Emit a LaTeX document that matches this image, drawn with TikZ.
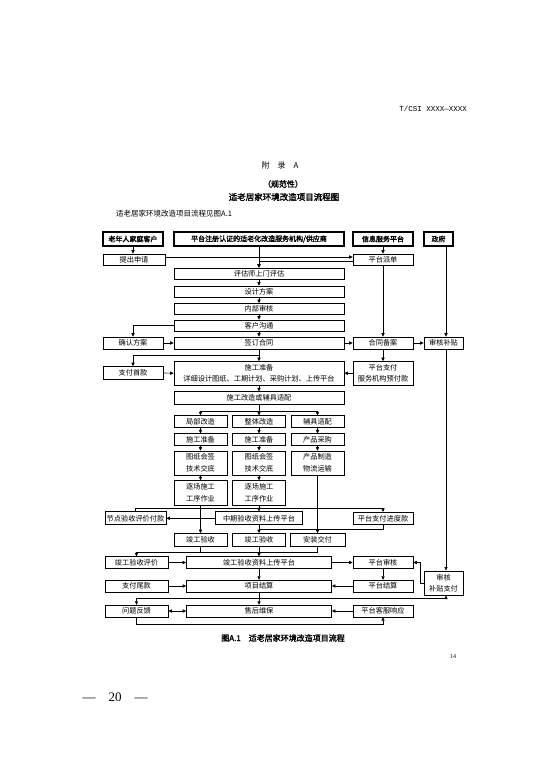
\documentclass[tikz,border=0pt]{standalone}
\usepackage{fontspec}
\usetikzlibrary{arrows.meta,calc}
\newfontfamily\cjk{Noto Sans CJK SC}
\newfontfamily\cjkb[FakeBold=2]{Noto Sans CJK SC}
\newfontfamily\monof{Liberation Mono}
\newfontfamily\serifnum{Liberation Serif}
\tikzset{
  box/.style={draw, line width=0.7pt, inner sep=0pt, align=center,
    font=\cjk\fontsize{7.2}{11.5}\selectfont},
  hdr/.style={draw, line width=1.8pt, inner sep=0pt, align=center,
    font=\cjkb\fontsize{7}{9}\selectfont, minimum height=14pt},
  ln/.style={line width=0.6pt},
  arr/.style={line width=0.6pt, -{Triangle[length=3.5pt,width=3.2pt]}},
  darr/.style={line width=0.6pt, {Triangle[length=3.5pt,width=3.2pt]}-{Triangle[length=3.5pt,width=3.2pt]}},
  txt/.style={inner sep=0pt}
}
\begin{document}
\begin{tikzpicture}[x=1pt,y=-1pt]
\path[use as bounding box, fill=white] (0,0) rectangle (550,778);

% page texts
\node[txt, anchor=east, font=\monof\fontsize{7.5}{9}\selectfont] (code) at (467,109) {T/CSI XXXX—XXXX};
\node[txt, font=\cjk\fontsize{8}{10}\selectfont] (app) at (280,165) {附\quad 录\quad A};
\node[txt, font=\cjkb\fontsize{8}{10}\selectfont] (norm) at (283,184) {（规范性）};
\node[txt, font=\cjkb\fontsize{8.5}{10}\selectfont] (title) at (284,197) {适老居家环境改造项目流程图};
\node[txt, anchor=west, font=\cjk\fontsize{7.5}{9}\selectfont] (intro) at (116,214) {适老居家环境改造项目流程见图A.1};
\node[txt, font=\cjkb\fontsize{8}{10}\selectfont] (cap) at (283,638) {图A.1\quad 适老居家环境改造项目流程};
\node[txt, font=\serifnum\fontsize{6}{7}\selectfont] (pg) at (453,657) {14};
\node[txt, font=\serifnum\fontsize{13}{15}\selectfont] (pgnum) at (115,697) {—\quad 20\quad —};

% headers
\node[hdr, minimum width=60pt] (hA) at (133,239) {老年人家庭客户};
\node[hdr, minimum width=170pt] (hB) at (259,239) {平台注册认证的适老化改造服务机构/供应商};
\node[hdr, minimum width=60pt] (hC) at (383,239) {信息服务平台};
\node[hdr, minimum width=29pt] (hD) at (438.5,239) {政府};

% boxes
\node[box, minimum width=62pt, minimum height=11pt] (req) at (134,259.5) {提出申请};
\node[box, minimum width=60pt, minimum height=11pt] (disp) at (383,259.5) {平台派单};
\node[box, minimum width=170pt, minimum height=11pt] (eval) at (259,273.5) {评估师上门评估};
\node[box, minimum width=170pt, minimum height=11pt] (design) at (259,291.5) {设计方案};
\node[box, minimum width=170pt, minimum height=11pt] (audit) at (259,309) {内部审核};
\node[box, minimum width=170pt, minimum height=11pt] (comm) at (259,325.5) {客户沟通};
\node[box, minimum width=60pt, minimum height=12pt] (confirm) at (133,343) {确认方案};
\node[box, minimum width=170pt, minimum height=12pt] (contract) at (259,343) {签订合同};
\node[box, minimum width=60pt, minimum height=12pt] (filing) at (383,343) {合同备案};
\node[box, minimum width=39pt, minimum height=12pt] (sub) at (443.5,343) {审核补贴};
\node[box, minimum width=60pt, minimum height=13pt] (firstpay) at (133,373) {支付首款};
\node[box, minimum width=170pt, minimum height=23.5pt] (prep) at (259,373.25) {施工准备\\详细设计图纸、工期计划、采购计划、上传平台};
\node[box, minimum width=60pt, minimum height=23.5pt] (ppay) at (383,373.25) {平台支付\\服务机构预付款};
\node[box, minimum width=170pt, minimum height=12.5pt] (work) at (259,398) {施工改造或辅具适配};

\node[box, minimum width=53pt, minimum height=12pt] (a1) at (200.5,421.7) {局部改造};
\node[box, minimum width=53pt, minimum height=12pt] (a2) at (259,421.7) {整体改造};
\node[box, minimum width=53pt, minimum height=12pt] (a3) at (317.5,421.7) {辅具适配};
\node[box, minimum width=53pt, minimum height=12pt] (b1) at (200.5,439.7) {施工准备};
\node[box, minimum width=53pt, minimum height=12pt] (b2) at (259,439.7) {施工准备};
\node[box, minimum width=53pt, minimum height=12pt] (b3) at (317.5,439.7) {产品采购};
\node[box, minimum width=53pt, minimum height=24pt] (c1) at (200.5,463) {图纸会签\\技术交底};
\node[box, minimum width=53pt, minimum height=24pt] (c2) at (259,463) {图纸会签\\技术交底};
\node[box, minimum width=53pt, minimum height=24pt] (c3) at (317.5,463) {产品制造\\物流运输};
\node[box, minimum width=53pt, minimum height=24.3pt] (d1) at (200.5,492.8) {逐场施工\\工序作业};
\node[box, minimum width=53pt, minimum height=24.3pt] (d2) at (259,492.8) {逐场施工\\工序作业};

\node[box, minimum width=61pt, minimum height=13pt] (nodepay) at (135.5,518.3) {节点验收评价付款};
\node[box, minimum width=87pt, minimum height=13pt] (mid) at (259,518.3) {中期验收资料上传平台};
\node[box, minimum width=60pt, minimum height=12.5pt] (ppr) at (383,518.5) {平台支付进度款};

\node[box, minimum width=53pt, minimum height=13pt] (e1) at (200.5,540) {竣工验收};
\node[box, minimum width=53pt, minimum height=13pt] (e2) at (259,540) {竣工验收};
\node[box, minimum width=55pt, minimum height=13pt] (e3) at (317.5,540) {安装交付};

\node[box, minimum width=63pt, minimum height=11.6pt] (finEval) at (136.5,562.5) {竣工验收评价};
\node[box, minimum width=145pt, minimum height=11.6pt] (upload) at (259,562.5) {竣工验收资料上传平台};
\node[box, minimum width=60pt, minimum height=11.6pt] (paudit) at (383,562.5) {平台审核};
\node[box, minimum width=39pt, minimum height=24.3pt] (subpay) at (443.5,583) {审核\\补贴支付};
\node[box, minimum width=63pt, minimum height=11.7pt] (tailpay) at (136.5,586) {支付尾款};
\node[box, minimum width=145pt, minimum height=11.7pt] (settle) at (259,586) {项目结算};
\node[box, minimum width=60pt, minimum height=11.7pt] (psettle) at (383,586) {平台结算};
\node[box, minimum width=63pt, minimum height=11.7pt] (feedback) at (136.5,611) {问题反馈};
\node[box, minimum width=145pt, minimum height=11.7pt] (maint) at (259,611) {售后维保};
\node[box, minimum width=60pt, minimum height=11.7pt] (pservice) at (383,611) {平台客服响应};

% junction coordinates
\coordinate (jc) at ($(contract.south)+(0,6)$);
\coordinate (j1) at ($(work.south)+(0,6.5)$);
\coordinate (j2) at ($(d2.south)+(0,3.4)$);
\coordinate (j3) at ($(mid.south)+(0,4.5)$);
\coordinate (j4) at ($(e2.south)+(0,5.5)$);
\coordinate (j5) at ($(settle.south)+(0,6)$);
\coordinate (j6) at ($(feedback.south)+(0,7)$);

% connectors: top
\draw[arr] (hA.south) -- (req.north -| hA.south);
\draw[arr] ([yshift=2.5pt]req.east) -- ([yshift=2.5pt]req.east -| disp.west);
\draw[arr] ([yshift=-1.5pt]disp.west) -| (eval.north);
\draw[arr] (hB.south) -- (eval.north);
\draw[arr] (hC.south) -- (disp.north);
\draw[arr] ([xshift=7.5pt]hD.south) -- ([xshift=2.5pt]sub.north);

\draw[arr] (eval.south) -- (design.north);
\draw[arr] (design.south) -- (audit.north);
\draw[arr] (audit.south) -- (comm.north);
\draw[arr] (comm.south) -- (contract.north);
\draw[arr] (comm.west) -| (confirm.north);
\draw[arr] (confirm.east) -- (contract.west);
\draw[arr] (contract.east) -- (filing.west);
\draw[arr] (filing.east) -- (sub.west);
\draw[arr] (disp.south) -- (filing.north);

\draw[arr] (contract.south) -- (prep.north);
\draw[arr] (jc) -| (firstpay.north);
\draw[arr] (firstpay.east) -- (prep.west);
\draw[arr] (ppay.west) -- (prep.east);
\draw[arr] (filing.south) -- (ppay.north);
\draw[arr] ([xshift=2.5pt]sub.south) -- ([xshift=2.5pt]subpay.north);

\draw[arr] (prep.south) -- (work.north);
\draw[arr] (work.south) -- (a2.north);
\draw[arr] (j1) -| (a1.north);
\draw[arr] (j1) -| (a3.north);

\draw[arr] (a1.south) -- (b1.north);
\draw[arr] (a2.south) -- (b2.north);
\draw[arr] (a3.south) -- (b3.north);
\draw[arr] (b1.south) -- (c1.north);
\draw[arr] (b2.south) -- (c2.north);
\draw[arr] (b3.south) -- (c3.north);
\draw[arr] (c1.south) -- (d1.north);
\draw[arr] (c2.south) -- (d2.north);

\draw[arr] (d1.south) -- (e1.north);
\draw[arr] (c3.south) -- (e3.north);
\draw[arr] (d2.south) -- (mid.north);
\draw[ln] (nodepay.north) |- (j2);
\draw[arr] (j2) -| (ppr.north);
\draw[arr] (mid.west) -- (nodepay.east);
\draw[arr] (mid.south) -- (e2.north);
\draw[ln] (ppr.south) |- (j3);

\draw[ln] (e1.south) -- (e1.south |- j4);
\draw[ln] (e3.south) |- (j4);
\draw[arr] (j4) -| (finEval.north);
\draw[arr] (e2.south) -- (upload.north);
\draw[arr] (finEval.east) -- (upload.west);
\draw[arr] (upload.east) -- (paudit.west);
\draw[arr] (subpay.west) -- ++(-3.5,0) |- (paudit.east);
\draw[arr] (paudit.south) -- (psettle.north);
\draw[arr] (upload.south) -- (settle.north);
\draw[arr] (tailpay.east) -- (settle.west);
\draw[arr] (psettle.west) -- (settle.east);

\draw[arr] (settle.south) -- (maint.north);
\draw[arr] (j5) -| (feedback.north);
\draw[arr] (j5) -| ([xshift=2.5pt]subpay.south);
\draw[darr] (feedback.east) -- (maint.west);
\draw[arr] (pservice.west) -- (maint.east);
\draw[arr] (feedback.south) -- (j6) -| (pservice.south);
\end{tikzpicture}
\end{document}
